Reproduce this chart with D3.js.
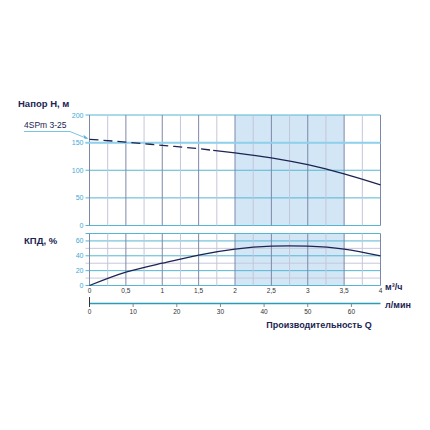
<!DOCTYPE html>
<head>
  <meta charset="UTF-8">
  <title>4SPm 3-25</title>
  <style>
  body, html, svg{
    padding: 0;
    margin: 0;
  }
  body{
    background: #fff;
  }
  text{
    font-family: "Liberation Sans", Arial, sans-serif;
  }
  </style>
</head>
<body>
  <script src="https://cdn.jsdelivr.net/npm/d3@7"></script>
  <script type="text/javascript">
  // данные
  var flow = [0, 0.5, 1, 1.5, 2, 2.5, 3, 3.5, 4];            // м3/ч
  var head = [156, 151, 145, 139, 131.5, 122.5, 110, 93.5, 73.5]; // м
  var eff = [0, 18, 30, 41, 49, 53, 53, 49, 40];            // %
  var dashedTo = 1.7;                                        // пунктир до
  var workZone = [2, 3.5];
  var headTicks = [0, 50, 100, 150, 200];
  var effTicks = [0, 20, 40, 60];
  var qTicks = [0, 0.5, 1, 1.5, 2, 2.5, 3, 3.5, 4];
  var lTicks = [0, 10, 20, 30, 40, 50, 60];

  var width = 430, height = 430;
  var svg = d3.select('body').append('svg')
    .attr('width', width)
    .attr('height', height);

  var x = d3.scaleLinear().domain([0, 4]).range([89.5, 380.5]);
  var xl = d3.scaleLinear().domain([0, 4000 / 60]).range([89.5, 380.5]);
  var yH = d3.scaleLinear().domain([0, 200]).range([225.5, 115]);
  var yE = d3.scaleLinear().domain([0, 70]).range([285.5, 233.5]);

  var navy = '#1c2452', tickBlue = '#3fa9d6', teal = '#55b6d3';

  function panel(y, max, step, majorStep, ticks) {
    var g = svg.append('g');
    // рабочая зона
    g.append('rect')
      .attr('x', x(workZone[0])).attr('y', y(max))
      .attr('width', x(workZone[1]) - x(workZone[0]))
      .attr('height', y(0) - y(max))
      .attr('fill', '#d2e6f6');
    // горизонтальные линии
    g.selectAll('.h')
      .data(d3.range(0, max + 0.01, step))
      .enter().append('line')
      .attr('x1', x(0) - 4).attr('x2', x(4))
      .attr('y1', function(d) { return y(d); })
      .attr('y2', function(d) { return y(d); })
      .attr('stroke', function(d) { return d % majorStep === 0 || d === max ? teal : '#c6c8dc'; })
      .attr('stroke-width', 1);
    // вертикальные линии
    g.selectAll('.v')
      .data(d3.range(0, 4.01, 0.25))
      .enter().append('line')
      .attr('x1', function(d) { return x(d); })
      .attr('x2', function(d) { return x(d); })
      .attr('y1', y(0)).attr('y2', y(max))
      .attr('stroke', function(d) { return d % 0.5 === 0 ? '#7d88a8' : '#c4c6da'; })
      .attr('stroke-width', 1);
    // подписи
    g.selectAll('.t')
      .data(ticks)
      .enter().append('text')
      .attr('x', x(0) - 6)
      .attr('y', function(d) { return y(d) + 2.5; })
      .attr('text-anchor', 'end')
      .attr('font-size', 7)
      .attr('fill', tickBlue)
      .text(function(d) { return d; });
    return g;
  }

  panel(yH, 200, 50, 50, headTicks);
  // линия 150 светлее и толще
  svg.append('line')
    .attr('x1', x(0) - 4).attr('x2', x(4))
    .attr('y1', yH(150)).attr('y2', yH(150))
    .attr('stroke', '#8fd0ec').attr('stroke-width', 2);
  panel(yE, 70, 10, 20, effTicks);

  // кривые
  var pts = flow.map(function(q, i) { return [q, head[i]]; });
  var lineH = d3.line()
    .x(function(d) { return x(d[0]); })
    .y(function(d) { return yH(d[1]); })
    .curve(d3.curveMonotoneX);
  var split = d3.bisectLeft(flow, dashedTo);
  var hAt = d3.scaleLinear().domain(flow).range(head)(dashedTo);
  var dashPts = pts.slice(0, split).concat([[dashedTo, hAt]]);
  var solidPts = [[dashedTo, hAt]].concat(pts.slice(split));
  svg.append('path').attr('d', lineH(dashPts))
    .attr('fill', 'none').attr('stroke', navy).attr('stroke-width', 1.3)
    .attr('stroke-dasharray', '9,5');
  svg.append('path').attr('d', lineH(solidPts))
    .attr('fill', 'none').attr('stroke', navy).attr('stroke-width', 1.3);

  var lineE = d3.line()
    .x(function(d, i) { return x(flow[i]); })
    .y(function(d) { return yE(d); })
    .curve(d3.curveNatural);
  svg.append('path').attr('d', lineE(eff))
    .attr('fill', 'none').attr('stroke', navy).attr('stroke-width', 1.3);

  // ось м3/ч
  svg.selectAll('.q')
    .data(qTicks)
    .enter().append('text')
    .attr('x', function(d) { return x(d); })
    .attr('y', 293)
    .attr('text-anchor', 'middle')
    .attr('font-size', 6.5)
    .attr('fill', '#333')
    .text(function(d) { return String(d).replace('.', ','); });

  // ось л/мин
  svg.append('line')
    .attr('x1', xl(0)).attr('x2', x(4))
    .attr('y1', 303.5).attr('y2', 303.5)
    .attr('stroke', '#2a9cb8').attr('stroke-width', 1.5);
  svg.append('line')
    .attr('x1', xl(0)).attr('x2', xl(0))
    .attr('y1', 297).attr('y2', 307)
    .attr('stroke', '#333').attr('stroke-width', 1);
  svg.selectAll('.lt')
    .data(lTicks.slice(1))
    .enter().append('line')
    .attr('x1', function(d) { return xl(d); })
    .attr('x2', function(d) { return xl(d); })
    .attr('y1', 303.5).attr('y2', 307)
    .attr('stroke', '#888');
  svg.selectAll('.l')
    .data(lTicks)
    .enter().append('text')
    .attr('x', function(d) { return xl(d); })
    .attr('y', 314)
    .attr('text-anchor', 'middle')
    .attr('font-size', 6.5)
    .attr('fill', '#333')
    .text(function(d) { return d; });

  // надписи
  svg.append('text').attr('x', 18).attr('y', 107)
    .attr('font-size', 9.5).attr('font-weight', 'bold').attr('fill', navy)
    .text('Напор Н, м');
  svg.append('text').attr('x', 24).attr('y', 244)
    .attr('font-size', 9.5).attr('font-weight', 'bold').attr('fill', navy)
    .text('КПД, %');
  svg.append('text').attr('x', 385).attr('y', 290)
    .attr('font-size', 9).attr('font-weight', 'bold').attr('fill', navy)
    .text('м³/ч');
  svg.append('text').attr('x', 385).attr('y', 308)
    .attr('font-size', 9).attr('font-weight', 'bold').attr('fill', navy)
    .text('л/мин');
  svg.append('text').attr('x', 319).attr('y', 328)
    .attr('text-anchor', 'middle')
    .attr('font-size', 9).attr('font-weight', 'bold').attr('fill', navy)
    .text('Производительность Q');

  // подпись модели
  svg.append('text').attr('x', 24).attr('y', 128)
    .attr('font-size', 8.5).attr('fill', '#1c2452')
    .text('4SPm 3-25');
  svg.append('path')
    .attr('d', 'M24,131.5 L70,131.5 L' + (x(0) - 3) + ',' + (yH(head[0]) - 1))
    .attr('fill', 'none').attr('stroke', '#5ab4d8').attr('stroke-width', 0.8);
  svg.append('path')
    .attr('d', 'M' + (x(0) - 1) + ',' + (yH(head[0]) - 0.5) + ' l-5,-4 l1,4 z')
    .attr('fill', '#5ab4d8');
  </script>
</body>
</html>
